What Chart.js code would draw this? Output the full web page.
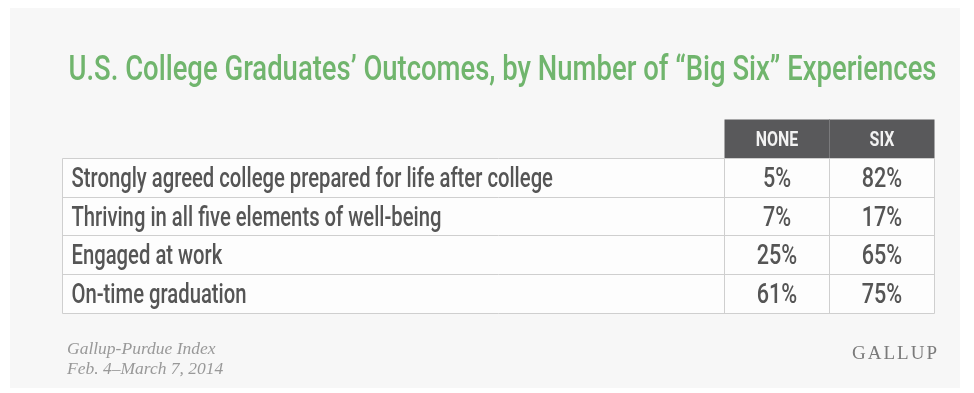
<!DOCTYPE html>
<html>
<head>
<meta charset="utf-8">
<script src="https://cdn.jsdelivr.net/npm/chart.js@4"></script>
<style>
  body{margin:0;background:#fff;}
  canvas{display:block;}
</style>
</head>
<body>
<canvas id="tabla" width="974" height="393"></canvas>
<script>
// data
const titulo = 'U.S. College Graduates\u2019 Outcomes, by Number of \u201cBig Six\u201d Experiences';
const outcomes = [
    'Strongly agreed college prepared for life after college',
    'Thriving in all five elements of well-being',
    'Engaged at work',
    'On-time graduation'
];
const columnas = ['NONE', 'SIX'];
const none = [5, 7, 25, 61];
const six = [82, 17, 65, 75];
const fuente = ['Gallup-Purdue Index', 'Feb. 4\u2013March 7, 2014'];
const marca = 'GALLUP';

// column edges in x-scale units (label column is wide, value columns are 1 unit)
const bordes = [0, 6.3, 7.3, 8.3];

function texto(ctx, str, x, y, font, color, apretar, align){
    ctx.save();
    ctx.font = font;
    ctx.fillStyle = color;
    ctx.textBaseline = 'alphabetic';
    ctx.translate(x, y);
    ctx.scale(apretar, 1);
    ctx.textAlign = align || 'left';
    ctx.fillText(str, 0, 0);
    ctx.restore();
}

const tablaPlugin = {
    id: 'tablaPlugin',
    beforeDraw(chart){
        let ctx = chart.ctx;
        ctx.save();
        ctx.fillStyle = '#ffffff';
        ctx.fillRect(0, 0, chart.width, chart.height);
        ctx.fillStyle = '#f7f7f7';
        ctx.fillRect(10, 8, 950, 380);
        ctx.restore();
    },
    afterDraw(chart){
        let ctx = chart.ctx;
        let x = chart.scales.x;
        let y = chart.scales.y;
        let banda = Math.abs(y.getPixelForValue(1) - y.getPixelForValue(0));
        let xs = bordes.map(b => Math.round(x.getPixelForValue(b)) + 0.5);
        let top = i => Math.round(y.getPixelForValue(i) - banda / 2) + 0.5;

        // header cells
        ctx.save();
        ctx.fillStyle = '#59595b';
        ctx.fillRect(xs[1], top(0), xs[3] - xs[1], top(1) - top(0));
        ctx.strokeStyle = '#7a7a7c';
        ctx.lineWidth = 1;
        ctx.beginPath();
        ctx.moveTo(xs[2], top(0));
        ctx.lineTo(xs[2], top(1));
        ctx.stroke();

        // body cells
        let y0 = top(1);
        let y1 = top(outcomes.length + 1);
        ctx.fillStyle = '#fdfdfd';
        ctx.fillRect(xs[0], y0, xs[3] - xs[0], y1 - y0);
        ctx.strokeStyle = '#cfcfcf';
        ctx.beginPath();
        for(let i = 1; i <= outcomes.length + 1; i++){
            ctx.moveTo(xs[0], top(i));
            ctx.lineTo(xs[3], top(i));
        }
        xs.forEach(xx => {
            ctx.moveTo(xx, y0);
            ctx.lineTo(xx, y1);
        });
        ctx.stroke();
        ctx.restore();

        // header text
        columnas.forEach((c, j) => {
            let cx = (xs[j + 1] + xs[j + 2]) / 2;
            texto(ctx, c, cx, y.getPixelForValue(0) + 7.5, 'bold 21px Roboto', '#f2f2f2', 0.76, 'center');
        });

        // rows
        outcomes.forEach((o, i) => {
            let cy = y.getPixelForValue(i + 1) + 9.5;
            texto(ctx, o, xs[0] + 9, cy, '500 27px Roboto', '#555555', 0.75);
            texto(ctx, none[i] + '%', (xs[1] + xs[2]) / 2, cy, '500 27px Roboto', '#555555', 0.8, 'center');
            texto(ctx, six[i] + '%', (xs[2] + xs[3]) / 2, cy, '500 27px Roboto', '#555555', 0.8, 'center');
        });

        // title, squeezed to the table width
        ctx.save();
        ctx.font = '500 35px Roboto';
        let ancho = ctx.measureText(titulo).width;
        ctx.restore();
        let objetivo = (xs[3] + 2) - (xs[0] + 6);
        texto(ctx, titulo, xs[0] + 6, 80, '500 35px Roboto', '#70b56d', objetivo / ancho);

        // source + logo
        texto(ctx, fuente[0], 67, 354, 'italic 17.5px "Liberation Serif"', '#999999', 1);
        texto(ctx, fuente[1], 67, 374, 'italic 17.5px "Liberation Serif"', '#999999', 1);
        ctx.save();
        ctx.letterSpacing = '2px';
        texto(ctx, marca, 939, 359, '19px "Liberation Serif"', '#7a7a7a', 1, 'right');
        ctx.restore();
    }
};

let canvasT = document.getElementById('tabla').getContext('2d');
let T = new Chart(canvasT, {
    type: 'scatter',
    data: { datasets: [] },
    options: {
        responsive: false,
        animation: false,
        layout: { padding: { left: 62, right: 40, top: 119, bottom: 80 } },
        plugins: { legend: { display: false }, tooltip: { enabled: false } },
        scales: {
            x: { type: 'linear', min: bordes[0], max: bordes[3], display: false },
            y: { type: 'category', labels: ['header'].concat(outcomes), offset: true, display: false }
        }
    },
    plugins: [tablaPlugin]
});
</script>
</body>
</html>
